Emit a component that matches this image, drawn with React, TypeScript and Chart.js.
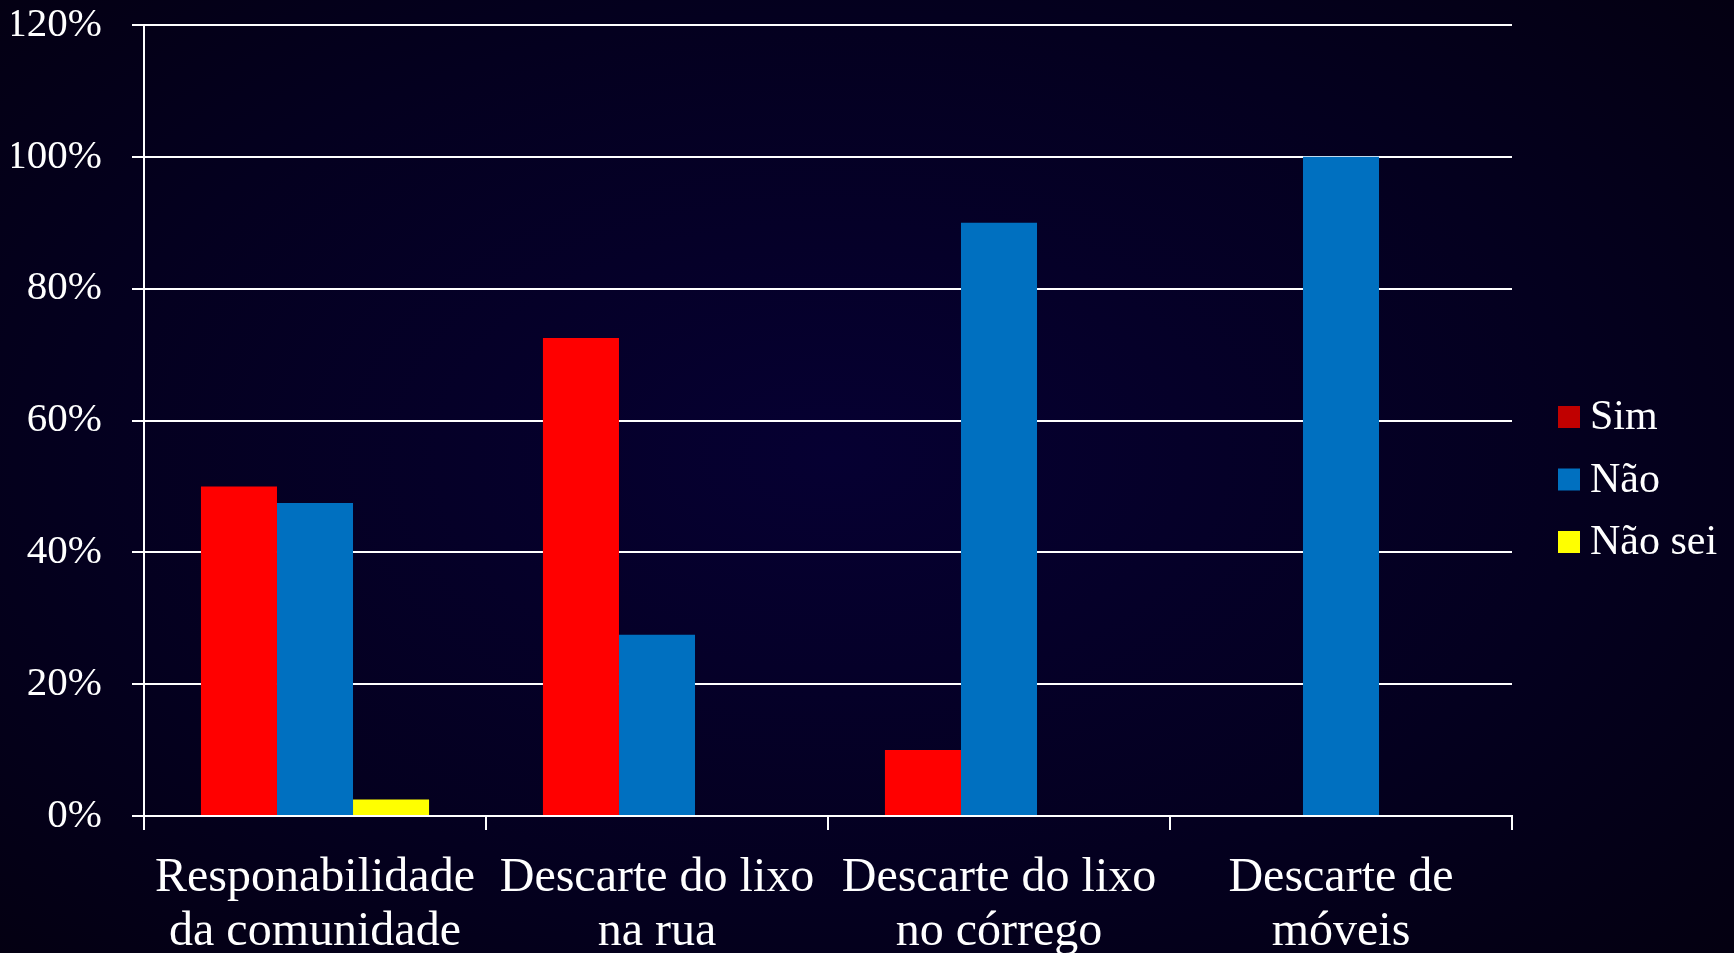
import React, { useEffect, useRef } from "react";
import { Chart, registerables } from "chart.js";

Chart.register(...registerables);

const categories: string[][] = [
  ["Responabilidade", "da comunidade"],
  ["Descarte do lixo", "na rua"],
  ["Descarte do lixo", "no córrego"],
  ["Descarte de", "móveis"],
];
const seriesNames = ["Sim", "Não", "Não sei"];
const simValues = [0.5, 0.725, 0.1, 0];
const naoValues = [0.475, 0.275, 0.9, 1.0];
const naoSeiValues = [0.025, 0, 0, 0];
const barColors = ["#FF0000", "#0070C0", "#FFFF00"];
const legendColors = ["#C00000", "#0070C0", "#FFFF00"];
const yMax = 1.2;
const yStep = 0.2;

const FONT = '"Liberation Serif", "Times New Roman", Times, serif';

const legendPlugin = {
  id: "customLegend",
  afterDraw(chart: any) {
    const ctx = chart.ctx;
    ctx.save();
    ctx.font = `42px ${FONT}`;
    ctx.textBaseline = "middle";
    ctx.textAlign = "left";
    chart.data.datasets.forEach((ds: any, i: number) => {
      const cy = 417 + i * 62.5;
      ctx.fillStyle = legendColors[i];
      ctx.fillRect(1558, cy - 11, 22, 22);
      ctx.fillStyle = "#FFFFFF";
      ctx.fillText(ds.label, 1590, cy + 1);
    });
    ctx.restore();
  },
};

export default function App() {
  const ref = useRef<HTMLCanvasElement>(null);
  useEffect(() => {
    document.body.style.margin = "0";
    const chart = new Chart(ref.current!, {
      type: "bar",
      data: {
        labels: categories,
        datasets: [
          { label: seriesNames[0], data: simValues, backgroundColor: barColors[0] },
          { label: seriesNames[1], data: naoValues, backgroundColor: barColors[1] },
          { label: seriesNames[2], data: naoSeiValues, backgroundColor: barColors[2] },
        ],
      },
      options: {
        responsive: false,
        animation: false,
        maintainAspectRatio: false,
        layout: { padding: { left: 12, right: 222, top: 25, bottom: 0 } },
        datasets: { bar: { categoryPercentage: 0.667, barPercentage: 1.0 } },
        plugins: { legend: { display: false }, tooltip: { enabled: false } },
        scales: {
          x: {
            afterFit: (s: any) => {
              s.height = 137;
              s.paddingLeft = 0;
              s.paddingRight = 0;
            },
            grid: {
              drawOnChartArea: false,
              drawTicks: true,
              tickLength: 14,
              color: "#FFFFFF",
              lineWidth: 2,
            },
            border: { color: "#FFFFFF", width: 2 },
            ticks: {
              color: "#FFFFFF",
              font: { family: FONT, size: 48, lineHeight: 1.13 },
              padding: 21,
              maxRotation: 0,
              autoSkip: false,
            },
          },
          y: {
            min: 0,
            max: yMax,
            afterFit: (s: any) => {
              s.width = 132;
              s.paddingTop = 0;
              s.paddingBottom = 0;
            },
            grid: { color: "#FFFFFF", lineWidth: 2, tickLength: 12 },
            border: { color: "#FFFFFF", width: 2 },
            ticks: {
              stepSize: yStep,
              color: "#FFFFFF",
              padding: 30,
              font: { family: FONT, size: 41 },
              callback: (v: any) => `${Math.round(Number(v) * 100)}%`,
            },
          },
        },
      },
      plugins: [legendPlugin],
    });
    return () => chart.destroy();
  }, []);
  return (
    <div
      style={{
        position: "fixed",
        left: 0,
        top: 0,
        width: 1734,
        height: 953,
        background:
          "radial-gradient(ellipse 72% 78% at 48% 48%, #060032 0%, #04001f 60%, #040010 100%)",
      }}
    >
      <canvas ref={ref} width={1734} height={953} style={{ display: "block" }} />
    </div>
  );
}
